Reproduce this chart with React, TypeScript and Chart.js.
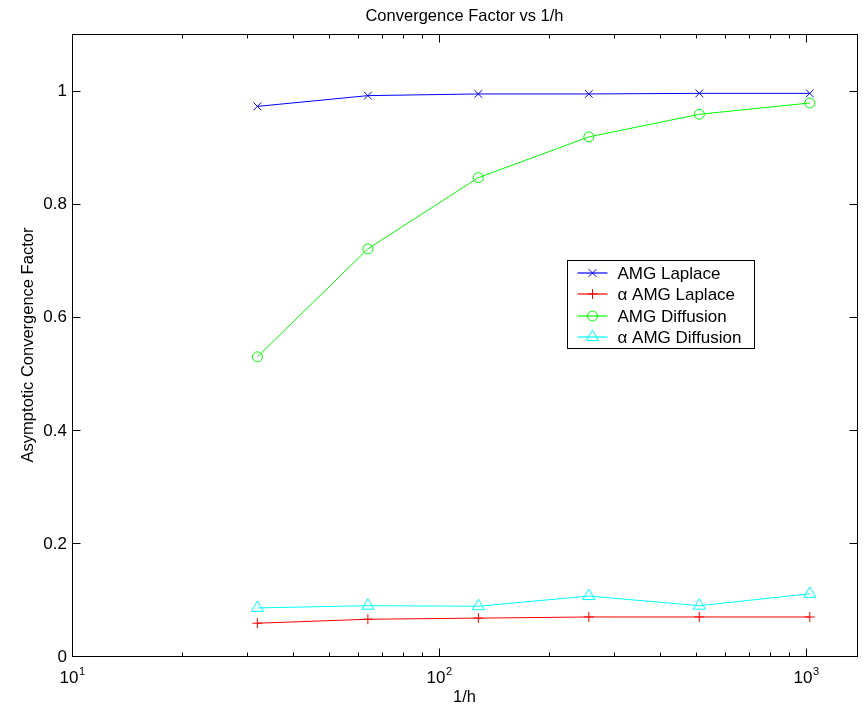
import React, { useEffect, useRef } from "react";
import { Chart, registerables } from "chart.js";

Chart.register(...registerables);

const xValues = [32, 64, 128, 256, 512, 1024];
const amgLaplace = [0.972, 0.991, 0.994, 0.994, 0.995, 0.995];
const alphaAmgLaplace = [0.058, 0.065, 0.067, 0.069, 0.069, 0.069];
const amgDiffusion = [0.529, 0.72, 0.846, 0.918, 0.958, 0.978];
const alphaAmgDiffusion = [0.085, 0.089, 0.088, 0.106, 0.089, 0.11];

const seriesNames = ["AMG Laplace", "α AMG Laplace", "AMG Diffusion", "α AMG Diffusion"];
const seriesColors = ["#0000ff", "#ff0000", "#00ff00", "#00ffff"];
const seriesMarkers = ["crossRot", "cross", "circle", "triangle"];
const seriesRadius = [5.5, 5, 5, 7];

const yTicks = [0, 0.2, 0.4, 0.6, 0.8, 1];
const xMajorTicks = [10, 100, 1000];
const xMinorTicks = [20, 30, 40, 50, 60, 70, 80, 90, 200, 300, 400, 500, 600, 700, 800, 900];
const xMin = 10;
const xMax = 1377;
const yMin = 0;
const yMax = 1.1;

const titleText = "Convergence Factor vs 1/h";
const xTitle = "1/h";
const yTitle = "Asymptotic Convergence Factor";

const FONT = "'Liberation Sans', Arial, Helvetica, sans-serif";

function drawMarker(ctx: CanvasRenderingContext2D, style: string, r: number, x: number, y: number) {
  ctx.beginPath();
  if (style === "crossRot") {
    const d = r * Math.SQRT1_2;
    ctx.moveTo(x - d, y - d);
    ctx.lineTo(x + d, y + d);
    ctx.moveTo(x - d, y + d);
    ctx.lineTo(x + d, y - d);
  } else if (style === "cross") {
    ctx.moveTo(x, y - r);
    ctx.lineTo(x, y + r);
    ctx.moveTo(x - r, y);
    ctx.lineTo(x + r, y);
  } else if (style === "circle") {
    ctx.arc(x, y, r, 0, Math.PI * 2);
  } else if (style === "triangle") {
    ctx.moveTo(x, y - r);
    ctx.lineTo(x + r * Math.sin(Math.PI / 3), y + r / 2);
    ctx.lineTo(x - r * Math.sin(Math.PI / 3), y + r / 2);
    ctx.closePath();
  }
  ctx.stroke();
}

const matlabPlugin = {
  id: "matlabDecor",
  afterDraw(chart: any) {
    const ctx = chart.ctx as CanvasRenderingContext2D;
    const area = chart.chartArea;
    const xs = chart.scales.x;
    const ys = chart.scales.y;
    const L = Math.round(area.left) + 0.5;
    const R = Math.round(area.right) + 0.5;
    const T = Math.round(area.top) + 0.5;
    const B = Math.round(area.bottom) + 0.5;
    ctx.save();
    ctx.strokeStyle = "#000";
    ctx.lineWidth = 1;
    ctx.strokeRect(L, T, R - L, B - T);

    ctx.beginPath();
    yTicks.forEach((v) => {
      const y = Math.round(ys.getPixelForValue(v)) + 0.5;
      ctx.moveTo(L, y);
      ctx.lineTo(L + 8, y);
      ctx.moveTo(R, y);
      ctx.lineTo(R - 8, y);
    });
    xMajorTicks.forEach((v) => {
      const x = Math.round(xs.getPixelForValue(v)) + 0.5;
      ctx.moveTo(x, B);
      ctx.lineTo(x, B - 8);
      ctx.moveTo(x, T);
      ctx.lineTo(x, T + 8);
    });
    xMinorTicks.forEach((v) => {
      if (v > xMax) return;
      const x = Math.round(xs.getPixelForValue(v)) + 0.5;
      ctx.moveTo(x, B);
      ctx.lineTo(x, B - 4);
      ctx.moveTo(x, T);
      ctx.lineTo(x, T + 4);
    });
    ctx.stroke();

    ctx.fillStyle = "#000";
    ctx.font = `17px ${FONT}`;
    ctx.textAlign = "right";
    ctx.textBaseline = "middle";
    yTicks.forEach((v) => {
      const y = ys.getPixelForValue(v);
      ctx.fillText(String(v), area.left - 5, y + 1);
    });

    ctx.textBaseline = "alphabetic";
    xMajorTicks.forEach((v) => {
      const x = xs.getPixelForValue(v);
      const exp = String(Math.round(Math.log10(v)));
      ctx.font = `17px ${FONT}`;
      const w1 = ctx.measureText("10").width;
      ctx.font = `11px ${FONT}`;
      const w2 = ctx.measureText(exp).width;
      const start = x - (w1 + w2) / 2;
      ctx.textAlign = "left";
      ctx.font = `17px ${FONT}`;
      ctx.fillText("10", start, area.bottom + 27);
      ctx.font = `11px ${FONT}`;
      ctx.fillText(exp, start + w1 + 0.5, area.bottom + 19);
    });

    const cx = (area.left + area.right) / 2;
    ctx.font = `16.5px ${FONT}`;
    ctx.textAlign = "center";
    ctx.textBaseline = "alphabetic";
    ctx.fillText(titleText, cx, 21);
    ctx.fillText(xTitle, cx, area.bottom + 46);
    ctx.save();
    ctx.translate(33, (area.top + area.bottom) / 2);
    ctx.rotate(-Math.PI / 2);
    ctx.fillText(yTitle, 0, 0);
    ctx.restore();

    const w = area.right - area.left;
    const h = area.bottom - area.top;
    const lx = Math.round(area.left + 0.631 * w) + 0.5;
    const ly = Math.round(area.top + 0.3635 * h) + 0.5;
    const lw = 187;
    const lh = 88;
    ctx.fillStyle = "#fff";
    ctx.fillRect(lx, ly, lw, lh);
    ctx.strokeStyle = "#000";
    ctx.strokeRect(lx, ly, lw, lh);
    seriesNames.forEach((name, i) => {
      const rowY = ly + 12.5 + i * 21.3;
      const yy = Math.round(rowY);
      ctx.strokeStyle = seriesColors[i];
      ctx.lineWidth = 1.2;
      ctx.beginPath();
      ctx.moveTo(lx + 10, yy);
      ctx.lineTo(lx + 40, yy);
      ctx.stroke();
      ctx.lineWidth = 1;
      drawMarker(ctx, seriesMarkers[i], seriesRadius[i], lx + 25, yy);
      ctx.fillStyle = "#000";
      ctx.font = `17px ${FONT}`;
      ctx.textAlign = "left";
      ctx.textBaseline = "alphabetic";
      ctx.fillText(name, lx + 50, rowY + 6);
    });
    ctx.restore();
  },
};

export default function App() {
  const canvasRef = useRef<HTMLCanvasElement | null>(null);

  useEffect(() => {
    if (!canvasRef.current) return;
    const allSeries = [amgLaplace, alphaAmgLaplace, amgDiffusion, alphaAmgDiffusion];
    const datasets = allSeries.map((vals, i) => ({
      label: seriesNames[i],
      data: xValues.map((x, j) => ({ x, y: vals[j] })),
      borderColor: seriesColors[i],
      backgroundColor: "rgba(0,0,0,0)",
      borderWidth: 1,
      pointStyle: seriesMarkers[i],
      pointRadius: seriesRadius[i],
      pointBorderColor: seriesColors[i],
      pointBackgroundColor: "rgba(0,0,0,0)",
      pointBorderWidth: 1,
      tension: 0,
      fill: false,
    }));
    const chart = new Chart(canvasRef.current, {
      type: "line",
      data: { datasets },
      options: {
        animation: false,
        responsive: false,
        devicePixelRatio: 1,
        layout: { padding: { left: 72, top: 34, right: 7, bottom: 50 } },
        plugins: {
          legend: { display: false },
          tooltip: { enabled: false },
          title: { display: false },
        },
        scales: {
          x: { type: "logarithmic", min: xMin, max: xMax, display: false },
          y: { type: "linear", min: yMin, max: yMax, display: false },
        },
      },
      plugins: [matlabPlugin],
    } as any);
    return () => chart.destroy();
  }, []);

  return (
    <div style={{ position: "fixed", left: 0, top: 0, width: 865, height: 706, background: "#fff" }}>
      <canvas ref={canvasRef} width={865} height={706} style={{ width: 865, height: 706 }} />
    </div>
  );
}
